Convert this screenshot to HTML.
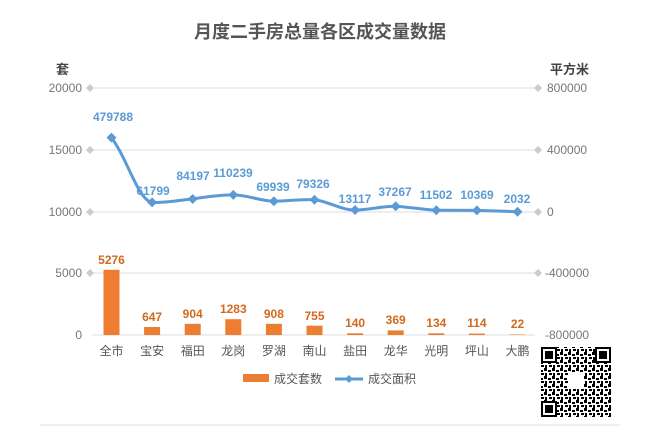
<!DOCTYPE html><html><head><meta charset="utf-8"><style>body{margin:0;background:#fff}svg{display:block;font-family:"Liberation Sans","Noto Sans CJK SC",sans-serif}</style></head><body>
<svg width="658" height="435" viewBox="0 0 658 435">
<defs><pattern id="qr" width="8" height="8" patternUnits="userSpaceOnUse"><rect width="8" height="8" fill="#fff"/><rect x="0" y="0" width="3" height="3" fill="#000"/><rect x="4" y="2" width="3" height="2" fill="#000"/><rect x="1" y="5" width="2" height="3" fill="#000"/><rect x="5" y="5" width="3" height="2" fill="#000"/></pattern></defs>
<text x="320" y="38" text-anchor="middle" font-size="18" font-weight="bold" fill="#555">月度二手房总量各区成交量数据</text>
<text x="56" y="74" font-size="13" font-weight="bold" fill="#444">套</text>
<text x="550" y="74" font-size="13" font-weight="bold" fill="#444">平方米</text>
<g stroke="#ddd" stroke-width="1">
<line x1="92" y1="88" x2="535" y2="88"/><line x1="92" y1="150" x2="535" y2="150"/><line x1="92" y1="212" x2="535" y2="212"/><line x1="92" y1="273" x2="535" y2="273"/><line x1="92" y1="335" x2="535" y2="335"/>
<line x1="40" y1="425" x2="620" y2="425"/></g>
<g fill="#ccc"><path d="M90 84l4 4-4 4-4-4z"/><path d="M90 146l4 4-4 4-4-4z"/><path d="M90 208l4 4-4 4-4-4z"/><path d="M90 269l4 4-4 4-4-4z"/>
<path d="M538 84l4 4-4 4-4-4z"/><path d="M538 146l4 4-4 4-4-4z"/><path d="M538 208l4 4-4 4-4-4z"/><path d="M538 269l4 4-4 4-4-4z"/></g>
<g font-size="12" fill="#777" text-anchor="end"><text x="82" y="92">20000</text><text x="82" y="154">15000</text><text x="82" y="216">10000</text><text x="82" y="277">5000</text><text x="82" y="339">0</text></g>
<g font-size="12" fill="#777"><text x="547" y="92">800000</text><text x="547" y="154">400000</text><text x="547" y="216">0</text><text x="545" y="277">-400000</text><text x="545" y="339">-800000</text></g>
<g fill="#ED7D31">
<rect x="103.5" y="269.8" width="16" height="65.2"/><rect x="144.1" y="327" width="16" height="8"/><rect x="184.7" y="323.8" width="16" height="11.2"/><rect x="225.3" y="319.2" width="16" height="15.8"/><rect x="265.9" y="323.8" width="16" height="11.2"/><rect x="306.5" y="325.7" width="16" height="9.3"/><rect x="347.1" y="333.3" width="16" height="1.7"/><rect x="387.7" y="330.4" width="16" height="4.6"/><rect x="428.3" y="333.3" width="16" height="1.7"/><rect x="468.9" y="333.6" width="16" height="1.4"/><rect x="509.5" y="334.5" width="16" height="0.5"/></g>
<g font-size="12" font-weight="bold" fill="#D2691E" text-anchor="middle">
<text x="111.5" y="264">5276</text><text x="152.1" y="321">647</text><text x="192.7" y="318">904</text><text x="233.3" y="313">1283</text><text x="273.9" y="318">908</text><text x="314.5" y="320">755</text><text x="355.1" y="327">140</text><text x="395.7" y="324">369</text><text x="436.3" y="327">134</text><text x="476.9" y="327">114</text><text x="517.5" y="328">22</text></g>
<path d="M111.5 137.6 C128 160,138 200,152.1 202.4 C165 203,180 200,192.7 199 C205 197,220 195,233.3 194.9 C248 195,260 201,273.9 201.2 C288 201,300 199,314.5 199.7 C328 201,340 210,355.1 210 C370 210,382 206,395.7 206.2 C410 207,425 210,436.3 210.2 L476.9 210.4 L517.5 211.7" fill="none" stroke="#5B9BD5" stroke-width="3"/>
<g fill="#5B9BD5">
<path d="M111.5 132.6l5 5-5 5-5-5z"/><path d="M152.1 197.4l5 5-5 5-5-5z"/><path d="M192.7 194l5 5-5 5-5-5z"/><path d="M233.3 189.9l5 5-5 5-5-5z"/><path d="M273.9 196.2l5 5-5 5-5-5z"/><path d="M314.5 194.7l5 5-5 5-5-5z"/><path d="M355.1 205l5 5-5 5-5-5z"/><path d="M395.7 201.2l5 5-5 5-5-5z"/><path d="M436.3 205.2l5 5-5 5-5-5z"/><path d="M476.9 205.4l5 5-5 5-5-5z"/><path d="M517.5 206.7l5 5-5 5-5-5z"/></g>
<g font-size="12" font-weight="bold" fill="#5B9BD5" text-anchor="middle">
<text x="113" y="121">479788</text><text x="153" y="195">61799</text><text x="193" y="180">84197</text><text x="233" y="177">110239</text><text x="273" y="191">69939</text><text x="313" y="188">79326</text><text x="355" y="203">13117</text><text x="395" y="196">37267</text><text x="436" y="199">11502</text><text x="477" y="199">10369</text><text x="517" y="203">2032</text></g>
<g font-size="12" fill="#555" text-anchor="middle">
<text x="111.5" y="355">全市</text><text x="152.1" y="355">宝安</text><text x="192.7" y="355">福田</text><text x="233.3" y="355">龙岗</text><text x="273.9" y="355">罗湖</text><text x="314.5" y="355">南山</text><text x="355.1" y="355">盐田</text><text x="395.7" y="355">龙华</text><text x="436.3" y="355">光明</text><text x="476.9" y="355">坪山</text><text x="517.5" y="355">大鹏</text></g>
<rect x="243" y="374" width="26" height="8" fill="#ED7D31"/><text x="274" y="383" font-size="12" fill="#555">成交套数</text>
<line x1="335" y1="379" x2="363" y2="379" stroke="#5B9BD5" stroke-width="3"/><path d="M349 375l4 4-4 4-4-4z" fill="#5B9BD5"/><text x="368" y="383" font-size="12" fill="#555">成交面积</text>
<rect x="541" y="347" width="70" height="70" fill="url(#qr)"/>
<g fill="#000"><rect x="541" y="347" width="16" height="16"/><rect x="595" y="347" width="16" height="16"/><rect x="541" y="401" width="16" height="16"/></g>
<g fill="#fff"><rect x="543" y="349" width="12" height="12"/><rect x="597" y="349" width="12" height="12"/><rect x="543" y="403" width="12" height="12"/><rect x="568" y="372" width="16" height="16"/></g>
<g fill="#000"><rect x="545" y="351" width="8" height="8"/><rect x="599" y="351" width="8" height="8"/><rect x="545" y="405" width="8" height="8"/></g>
</svg></body></html>
